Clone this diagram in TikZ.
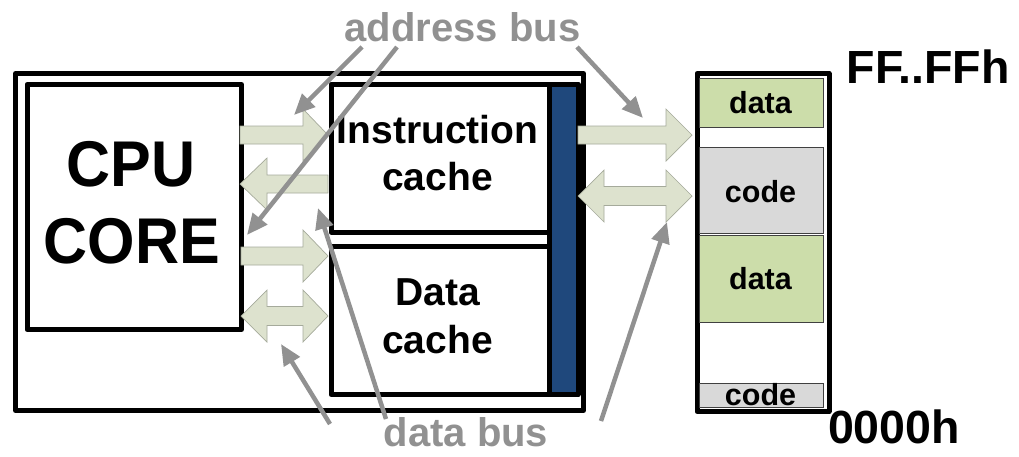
\documentclass[tikz,border=0pt]{standalone}
\usepackage{fontspec}
\setmainfont{Liberation Sans}
\usetikzlibrary{arrows.meta}
\definecolor{busgray}{RGB}{145,145,145}
\definecolor{arrfill}{RGB}{221,226,206}
\definecolor{arredge}{RGB}{165,170,155}
\definecolor{memgreen}{RGB}{204,221,170}
\definecolor{memgray}{RGB}{217,217,217}
\definecolor{barblue}{RGB}{31,72,124}
\newcommand\rblk[4]{%
  \draw[blk] (#1,#4-9) -- (#2,#4-9) -- (#2,#4-26) -- (#3,#4) -- (#2,#4+26) -- (#2,#4+9) -- (#1,#4+9) -- cycle;}
\newcommand\dblk[5]{%
  \draw[blk] (#1,#5) -- (#2,#5-26) -- (#2,#5-9.5) -- (#3,#5-9.5) -- (#3,#5-26) -- (#4,#5) -- (#3,#5+26) -- (#3,#5+9.5) -- (#2,#5+9.5) -- (#2,#5+26) -- cycle;}
\begin{document}
\begin{tikzpicture}[x=1pt,y=-1pt,
  box/.style={draw=black,line width=5pt,line join=round,inner sep=0pt,anchor=north west},
  cell/.style={draw=black!75,line width=1.2pt,inner sep=0pt,anchor=north west,minimum width=124.5pt},
  blk/.style={fill=arrfill,draw=arredge,line width=0.7pt,line join=miter},
  callout/.style={draw=busgray,line width=4.5pt,-{Triangle[length=21pt,width=18pt]}},
  bigtxt/.style={font=\bfseries\fontsize{61}{70}\selectfont,anchor=base,inner sep=0pt,yscale=1.06},
  midtxt/.style={font=\bfseries\fontsize{39}{45}\selectfont,anchor=base,inner sep=0pt},
  bustxt/.style={font=\bfseries\fontsize{40}{46}\selectfont,text=busgray,anchor=base,inner sep=0pt},
  memtxt/.style={font=\bfseries\fontsize{30.5}{35}\selectfont,anchor=base,inner sep=0pt},
  addrtxt/.style={font=\bfseries\fontsize{46.5}{52}\selectfont,anchor=base,inner sep=0pt}]
\useasboundingbox (0,0) rectangle (1019,456);

% boxes
\node[box,minimum width=568pt,minimum height=337pt] (outer) at (13,71) {};
\node[box,minimum width=214.5pt,minimum height=245pt] (cpu) at (24.5,82) {};
\node[box,fill=barblue,minimum width=28.5pt,minimum height=310.5pt] (bar) at (547,81.5) {};
\node[box,minimum width=218.5pt,minimum height=148pt] (icache) at (328.5,81.5) {};
\node[box,minimum width=218.5pt,minimum height=148pt] (dcache) at (328.5,244) {};

% memory
\node[box,minimum width=132pt,minimum height=338pt] (mem) at (694.5,71) {};
\node[cell,fill=memgreen,minimum height=49pt] (d1) at (698.5,78) {};
\node[cell,fill=memgray,minimum height=86pt] (c1) at (698.5,147) {};
\node[cell,fill=memgreen,minimum height=87pt] (d2) at (698.5,235) {};
\node[cell,fill=memgray,minimum height=24pt] (c2) at (698.5,383) {};

% texts
\node[bigtxt] (tcpu) at (131,186) {CPU};
\node[bigtxt] (tcore) at (132,263) {CORE};
\node[midtxt] (tinstr) at (437.5,143) {Instruction};
\node[midtxt] (tcache1) at (437.5,190) {cache};
\node[midtxt] (tdata) at (437.5,305) {Data};
\node[midtxt] (tcache2) at (437.5,353) {cache};
\node[memtxt] (md1) at (760.5,113) {data};
\node[memtxt] (mc1) at (760.5,202) {code};
\node[memtxt] (md2) at (760.5,289) {data};
\node[memtxt] (mc2) at (760.5,405) {code};
\node[addrtxt] (hi) at (928,83) {FF..FFh};
\node[addrtxt] (lo) at (894,443) {0000h};
\node[bustxt] (abus) at (462.5,41) {address bus};
\node[bustxt] (dbus) at (466,446) {data bus};

% block arrows
\rblk{240}{303}{328}{135}
\rblk{328}{267}{240}{184}
\rblk{241}{303}{328}{256}
\dblk{241}{267}{303}{328}{316}
\rblk{578}{666}{692}{135}
\dblk{578}{604}{666}{692}{196}

% callouts
\coordinate (ab1s) at (362,47);  \coordinate (ab1e) at (294,115);
\coordinate (ab2s) at (397,47);  \coordinate (ab2e) at (247,235);
\coordinate (ab3s) at (577,47);  \coordinate (ab3e) at (643,118);
\coordinate (db1s) at (330,424); \coordinate (db1e) at (281,344);
\coordinate (db2s) at (386,419); \coordinate (db2e) at (318,208);
\coordinate (db3s) at (601,421); \coordinate (db3e) at (667,222);
\draw[callout] (ab1s) -- (ab1e);
\draw[callout] (ab2s) -- (ab2e);
\draw[callout] (ab3s) -- (ab3e);
\draw[callout] (db1s) -- (db1e);
\draw[callout] (db2s) -- (db2e);
\draw[callout] (db3s) -- (db3e);
\end{tikzpicture}
\end{document}
